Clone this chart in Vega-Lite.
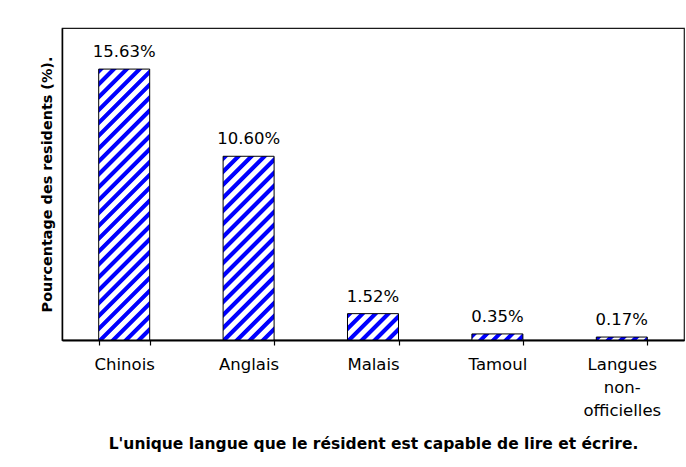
{
  "$schema": "https://vega.github.io/schema/vega-lite/v6.json",
  "width": 622,
  "height": 312,
  "autosize": {"type": "none"},
  "padding": {"left": 62, "top": 28, "right": 2, "bottom": 127},
  "background": "white",
  "config": {
    "view": {"stroke": "#1a1a1a", "strokeWidth": 1.2},
    "font": "DejaVu Sans"
  },
  "data": {
    "values": [
      {"lang": "Chinois", "pct": 15.63, "label": "15.63%"},
      {"lang": "Anglais", "pct": 10.60, "label": "10.60%"},
      {"lang": "Malais", "pct": 1.52, "label": "1.52%"},
      {"lang": "Tamoul", "pct": 0.35, "label": "0.35%"},
      {"lang": "Langues non-officielles", "pct": 0.17, "label": "0.17%"}
    ]
  },
  "encoding": {
    "x": {
      "field": "lang", "type": "nominal", "sort": null,
      "scale": {"paddingInner": 0.59, "paddingOuter": 0.295},
      "axis": {
        "title": "L'unique langue que le résident est capable de lire et écrire.",
        "titleFont": "DejaVu Sans", "titleFontWeight": "bold", "titleFontSize": 15.5, "titleColor": "#000000",
        "titlePadding": 18,
        "labelAngle": 0, "labelFont": "DejaVu Sans", "labelFontSize": 16.5, "labelColor": "#000000",
        "labelPadding": 11, "labelLineHeight": 23, "labelLimit": 0,
        "labelExpr": "datum.value === 'Langues non-officielles' ? ['Langues', 'non-', 'officielles'] : datum.value",
        "tickBand": "extent", "tickSize": 5, "tickColor": "#000000", "tickWidth": 1.2,
        "domainColor": "#000000", "domainWidth": 2, "grid": false
      }
    },
    "y": {
      "field": "pct", "type": "quantitative",
      "scale": {"domain": [0, 18], "nice": false},
      "axis": {
        "title": "Pourcentage des residents (%).",
        "titleFont": "DejaVu Sans", "titleFontWeight": "bold", "titleFontSize": 14.4, "titleColor": "#000000",
        "titlePadding": 8,
        "labels": false, "ticks": false, "grid": false,
        "domainColor": "#000000", "domainWidth": 1.5
      }
    }
  },
  "layer": [
    {
      "mark": {"type": "bar", "stroke": "#000000", "strokeWidth": 1},
      "encoding": {
        "fill": {
          "condition": [
            {"test": "datum.lang === 'Chinois'", "value": {"gradient": "linear", "x1": 0, "y1": 0, "x2": 0.216, "y2": 1.1476, "stops": [
              {"offset": 0, "color": "#0000ff"}, {"offset": 0.014, "color": "#0000ff"}, {"offset": 0.018, "color": "#ffffff"}, {"offset": 0.036, "color": "#ffffff"},
              {"offset": 0.04, "color": "#0000ff"}, {"offset": 0.054, "color": "#0000ff"}, {"offset": 0.058, "color": "#ffffff"}, {"offset": 0.076, "color": "#ffffff"},
              {"offset": 0.08, "color": "#0000ff"}, {"offset": 0.094, "color": "#0000ff"}, {"offset": 0.098, "color": "#ffffff"}, {"offset": 0.116, "color": "#ffffff"},
              {"offset": 0.12, "color": "#0000ff"}, {"offset": 0.134, "color": "#0000ff"}, {"offset": 0.138, "color": "#ffffff"}, {"offset": 0.156, "color": "#ffffff"},
              {"offset": 0.16, "color": "#0000ff"}, {"offset": 0.174, "color": "#0000ff"}, {"offset": 0.178, "color": "#ffffff"}, {"offset": 0.196, "color": "#ffffff"},
              {"offset": 0.2, "color": "#0000ff"}, {"offset": 0.214, "color": "#0000ff"}, {"offset": 0.218, "color": "#ffffff"}, {"offset": 0.236, "color": "#ffffff"},
              {"offset": 0.24, "color": "#0000ff"}, {"offset": 0.254, "color": "#0000ff"}, {"offset": 0.258, "color": "#ffffff"}, {"offset": 0.276, "color": "#ffffff"},
              {"offset": 0.28, "color": "#0000ff"}, {"offset": 0.294, "color": "#0000ff"}, {"offset": 0.298, "color": "#ffffff"}, {"offset": 0.316, "color": "#ffffff"},
              {"offset": 0.32, "color": "#0000ff"}, {"offset": 0.334, "color": "#0000ff"}, {"offset": 0.338, "color": "#ffffff"}, {"offset": 0.356, "color": "#ffffff"},
              {"offset": 0.36, "color": "#0000ff"}, {"offset": 0.374, "color": "#0000ff"}, {"offset": 0.378, "color": "#ffffff"}, {"offset": 0.396, "color": "#ffffff"},
              {"offset": 0.4, "color": "#0000ff"}, {"offset": 0.414, "color": "#0000ff"}, {"offset": 0.418, "color": "#ffffff"}, {"offset": 0.436, "color": "#ffffff"},
              {"offset": 0.44, "color": "#0000ff"}, {"offset": 0.454, "color": "#0000ff"}, {"offset": 0.458, "color": "#ffffff"}, {"offset": 0.476, "color": "#ffffff"},
              {"offset": 0.48, "color": "#0000ff"}, {"offset": 0.494, "color": "#0000ff"}, {"offset": 0.498, "color": "#ffffff"}, {"offset": 0.516, "color": "#ffffff"},
              {"offset": 0.52, "color": "#0000ff"}, {"offset": 0.534, "color": "#0000ff"}, {"offset": 0.538, "color": "#ffffff"}, {"offset": 0.556, "color": "#ffffff"},
              {"offset": 0.56, "color": "#0000ff"}, {"offset": 0.574, "color": "#0000ff"}, {"offset": 0.578, "color": "#ffffff"}, {"offset": 0.596, "color": "#ffffff"},
              {"offset": 0.6, "color": "#0000ff"}, {"offset": 0.614, "color": "#0000ff"}, {"offset": 0.618, "color": "#ffffff"}, {"offset": 0.636, "color": "#ffffff"},
              {"offset": 0.64, "color": "#0000ff"}, {"offset": 0.654, "color": "#0000ff"}, {"offset": 0.658, "color": "#ffffff"}, {"offset": 0.676, "color": "#ffffff"},
              {"offset": 0.68, "color": "#0000ff"}, {"offset": 0.694, "color": "#0000ff"}, {"offset": 0.698, "color": "#ffffff"}, {"offset": 0.716, "color": "#ffffff"},
              {"offset": 0.72, "color": "#0000ff"}, {"offset": 0.734, "color": "#0000ff"}, {"offset": 0.738, "color": "#ffffff"}, {"offset": 0.756, "color": "#ffffff"},
              {"offset": 0.76, "color": "#0000ff"}, {"offset": 0.774, "color": "#0000ff"}, {"offset": 0.778, "color": "#ffffff"}, {"offset": 0.796, "color": "#ffffff"},
              {"offset": 0.8, "color": "#0000ff"}, {"offset": 0.814, "color": "#0000ff"}, {"offset": 0.818, "color": "#ffffff"}, {"offset": 0.836, "color": "#ffffff"},
              {"offset": 0.84, "color": "#0000ff"}, {"offset": 0.854, "color": "#0000ff"}, {"offset": 0.858, "color": "#ffffff"}, {"offset": 0.876, "color": "#ffffff"},
              {"offset": 0.88, "color": "#0000ff"}, {"offset": 0.894, "color": "#0000ff"}, {"offset": 0.898, "color": "#ffffff"}, {"offset": 0.916, "color": "#ffffff"},
              {"offset": 0.92, "color": "#0000ff"}, {"offset": 0.934, "color": "#0000ff"}, {"offset": 0.938, "color": "#ffffff"}, {"offset": 0.956, "color": "#ffffff"},
              {"offset": 0.96, "color": "#0000ff"}, {"offset": 0.974, "color": "#0000ff"}, {"offset": 0.978, "color": "#ffffff"}, {"offset": 0.996, "color": "#ffffff"},
              {"offset": 1, "color": "#0000ff"}
            ]}},
            {"test": "datum.lang === 'Anglais'", "value": {"gradient": "linear", "x1": 0, "y1": 0, "x2": 0.3293, "y2": 1.1862, "stops": [
              {"offset": 0, "color": "#0000ff"}, {"offset": 0.0194, "color": "#0000ff"}, {"offset": 0.025, "color": "#ffffff"}, {"offset": 0.05, "color": "#ffffff"},
              {"offset": 0.0556, "color": "#0000ff"}, {"offset": 0.075, "color": "#0000ff"}, {"offset": 0.0806, "color": "#ffffff"}, {"offset": 0.1056, "color": "#ffffff"},
              {"offset": 0.1111, "color": "#0000ff"}, {"offset": 0.1306, "color": "#0000ff"}, {"offset": 0.1361, "color": "#ffffff"}, {"offset": 0.1611, "color": "#ffffff"},
              {"offset": 0.1667, "color": "#0000ff"}, {"offset": 0.1861, "color": "#0000ff"}, {"offset": 0.1917, "color": "#ffffff"}, {"offset": 0.2167, "color": "#ffffff"},
              {"offset": 0.2222, "color": "#0000ff"}, {"offset": 0.2417, "color": "#0000ff"}, {"offset": 0.2472, "color": "#ffffff"}, {"offset": 0.2722, "color": "#ffffff"},
              {"offset": 0.2778, "color": "#0000ff"}, {"offset": 0.2972, "color": "#0000ff"}, {"offset": 0.3028, "color": "#ffffff"}, {"offset": 0.3278, "color": "#ffffff"},
              {"offset": 0.3333, "color": "#0000ff"}, {"offset": 0.3528, "color": "#0000ff"}, {"offset": 0.3583, "color": "#ffffff"}, {"offset": 0.3833, "color": "#ffffff"},
              {"offset": 0.3889, "color": "#0000ff"}, {"offset": 0.4083, "color": "#0000ff"}, {"offset": 0.4139, "color": "#ffffff"}, {"offset": 0.4389, "color": "#ffffff"},
              {"offset": 0.4444, "color": "#0000ff"}, {"offset": 0.4639, "color": "#0000ff"}, {"offset": 0.4694, "color": "#ffffff"}, {"offset": 0.4944, "color": "#ffffff"},
              {"offset": 0.5, "color": "#0000ff"}, {"offset": 0.5194, "color": "#0000ff"}, {"offset": 0.525, "color": "#ffffff"}, {"offset": 0.55, "color": "#ffffff"},
              {"offset": 0.5556, "color": "#0000ff"}, {"offset": 0.575, "color": "#0000ff"}, {"offset": 0.5806, "color": "#ffffff"}, {"offset": 0.6056, "color": "#ffffff"},
              {"offset": 0.6111, "color": "#0000ff"}, {"offset": 0.6306, "color": "#0000ff"}, {"offset": 0.6361, "color": "#ffffff"}, {"offset": 0.6611, "color": "#ffffff"},
              {"offset": 0.6667, "color": "#0000ff"}, {"offset": 0.6861, "color": "#0000ff"}, {"offset": 0.6917, "color": "#ffffff"}, {"offset": 0.7167, "color": "#ffffff"},
              {"offset": 0.7222, "color": "#0000ff"}, {"offset": 0.7417, "color": "#0000ff"}, {"offset": 0.7472, "color": "#ffffff"}, {"offset": 0.7722, "color": "#ffffff"},
              {"offset": 0.7778, "color": "#0000ff"}, {"offset": 0.7972, "color": "#0000ff"}, {"offset": 0.8028, "color": "#ffffff"}, {"offset": 0.8278, "color": "#ffffff"},
              {"offset": 0.8333, "color": "#0000ff"}, {"offset": 0.8528, "color": "#0000ff"}, {"offset": 0.8583, "color": "#ffffff"}, {"offset": 0.8833, "color": "#ffffff"},
              {"offset": 0.8889, "color": "#0000ff"}, {"offset": 0.9083, "color": "#0000ff"}, {"offset": 0.9139, "color": "#ffffff"}, {"offset": 0.9389, "color": "#ffffff"},
              {"offset": 0.9444, "color": "#0000ff"}, {"offset": 0.9639, "color": "#0000ff"}, {"offset": 0.9694, "color": "#ffffff"}, {"offset": 0.9944, "color": "#ffffff"},
              {"offset": 1, "color": "#0000ff"}
            ]}},
            {"test": "datum.lang === 'Malais'", "value": {"gradient": "linear", "x1": 0, "y1": 0, "x2": 1.1971, "y2": 0.6185, "stops": [
              {"offset": 0, "color": "#0000ff"}, {"offset": 0.0583, "color": "#0000ff"}, {"offset": 0.075, "color": "#ffffff"}, {"offset": 0.15, "color": "#ffffff"},
              {"offset": 0.1667, "color": "#0000ff"}, {"offset": 0.225, "color": "#0000ff"}, {"offset": 0.2417, "color": "#ffffff"}, {"offset": 0.3167, "color": "#ffffff"},
              {"offset": 0.3333, "color": "#0000ff"}, {"offset": 0.3917, "color": "#0000ff"}, {"offset": 0.4083, "color": "#ffffff"}, {"offset": 0.4833, "color": "#ffffff"},
              {"offset": 0.5, "color": "#0000ff"}, {"offset": 0.5583, "color": "#0000ff"}, {"offset": 0.575, "color": "#ffffff"}, {"offset": 0.65, "color": "#ffffff"},
              {"offset": 0.6667, "color": "#0000ff"}, {"offset": 0.725, "color": "#0000ff"}, {"offset": 0.7417, "color": "#ffffff"}, {"offset": 0.8167, "color": "#ffffff"},
              {"offset": 0.8333, "color": "#0000ff"}, {"offset": 0.8917, "color": "#0000ff"}, {"offset": 0.9083, "color": "#ffffff"}, {"offset": 0.9833, "color": "#ffffff"},
              {"offset": 1, "color": "#0000ff"}
            ]}},
            {"test": "datum.lang === 'Tamoul'", "value": {"gradient": "linear", "x1": 0, "y1": 0, "x2": 1.1034, "y2": 0.1313, "stops": [
              {"offset": 0, "color": "#0000ff"}, {"offset": 0.0779, "color": "#0000ff"}, {"offset": 0.1001, "color": "#ffffff"}, {"offset": 0.2003, "color": "#ffffff"},
              {"offset": 0.2225, "color": "#0000ff"}, {"offset": 0.3004, "color": "#0000ff"}, {"offset": 0.3226, "color": "#ffffff"}, {"offset": 0.4228, "color": "#ffffff"},
              {"offset": 0.445, "color": "#0000ff"}, {"offset": 0.5229, "color": "#0000ff"}, {"offset": 0.5451, "color": "#ffffff"}, {"offset": 0.6453, "color": "#ffffff"},
              {"offset": 0.6675, "color": "#0000ff"}, {"offset": 0.7454, "color": "#0000ff"}, {"offset": 0.7676, "color": "#ffffff"}, {"offset": 0.8678, "color": "#ffffff"},
              {"offset": 0.89, "color": "#0000ff"}, {"offset": 0.9679, "color": "#0000ff"}, {"offset": 0.9901, "color": "#ffffff"}, {"offset": 1, "color": "#ffffff"}
            ]}}
          ],
          "value": {"gradient": "linear", "x1": 0, "y1": 0, "x2": 1.0543, "y2": 0.0609, "stops": [
            {"offset": 0, "color": "#0000ff"}, {"offset": 0.0824, "color": "#0000ff"}, {"offset": 0.1059, "color": "#ffffff"}, {"offset": 0.2119, "color": "#ffffff"},
            {"offset": 0.2354, "color": "#0000ff"}, {"offset": 0.3178, "color": "#0000ff"}, {"offset": 0.3413, "color": "#ffffff"}, {"offset": 0.4473, "color": "#ffffff"},
            {"offset": 0.4708, "color": "#0000ff"}, {"offset": 0.5532, "color": "#0000ff"}, {"offset": 0.5767, "color": "#ffffff"}, {"offset": 0.6827, "color": "#ffffff"},
            {"offset": 0.7062, "color": "#0000ff"}, {"offset": 0.7886, "color": "#0000ff"}, {"offset": 0.8121, "color": "#ffffff"}, {"offset": 0.9181, "color": "#ffffff"},
            {"offset": 0.9416, "color": "#0000ff"}, {"offset": 1, "color": "#0000ff"}
          ]}
        }
      }
    },
    {
      "mark": {"type": "text", "baseline": "alphabetic", "dy": -12, "font": "DejaVu Sans", "fontSize": 16.5, "color": "#000000"},
      "encoding": {
        "text": {"field": "label", "type": "nominal"}
      }
    }
  ]
}
